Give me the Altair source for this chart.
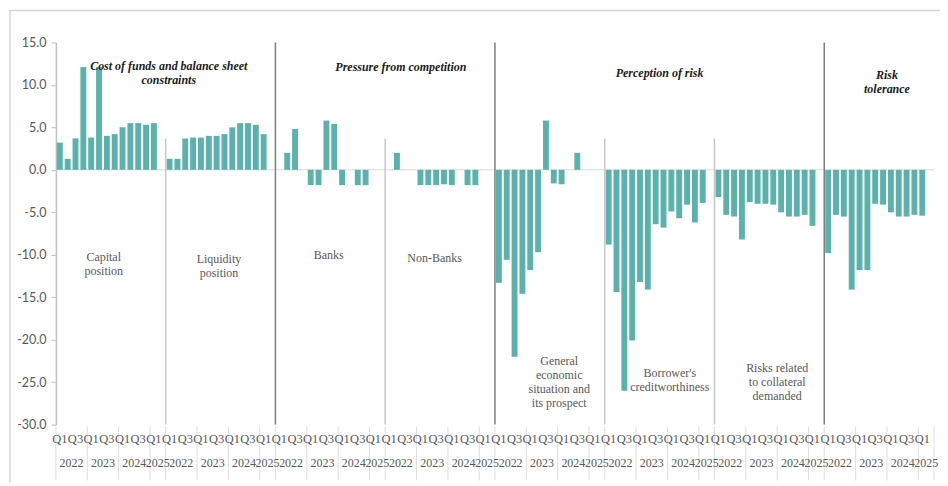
import altair as alt
import pandas as pd

# ---------------- data ----------------
panels = ["Capital position", "Liquidity position", "Banks", "Non-Banks",
          "General economic situation and its prospect",
          "Borrower's creditworthiness", "Risks related to collateral demanded",
          "Risk tolerance"]
quarters = ["Q1", "Q2", "Q3", "Q4", "Q1", "Q2", "Q3", "Q4",
            "Q1", "Q2", "Q3", "Q4", "Q1", "Q2"]
years = ["2022", "2023", "2024", "2025"]
year_len = [4, 4, 4, 2]

capital = [3.2, 1.3, 3.7, 12.1, 3.8, 12.1, 4.0, 4.2, 5.0, 5.5, 5.5, 5.3, 5.5]
liquidity = [1.3, 1.3, 3.7, 3.8, 3.8, 4.0, 4.0, 4.2, 5.0, 5.5, 5.5, 5.3, 4.2]
banks = [0, 2.0, 4.8, 0, -1.8, -1.8, 5.8, 5.4, -1.8, 0, -1.8, -1.8, 0]
nonbanks = [0, 2.0, 0, 0, -1.8, -1.8, -1.8, -1.7, -1.8, 0, -1.8, -1.8, 0]
general = [-13.3, -10.6, -22.0, -14.6, -11.8, -9.7, 5.8, -1.6, -1.7, 0, 2.0, 0, 0]
borrower = [-8.8, -14.4, -26.0, -20.1, -13.2, -14.1, -6.4, -6.8, -4.9, -5.7, -4.1, -6.2, -3.9]
collateral = [-3.2, -5.3, -5.5, -8.2, -3.8, -4.0, -4.0, -4.1, -5.0, -5.5, -5.5, -5.3, -6.6]
tolerance = [-9.8, -5.3, -5.5, -14.1, -11.8, -11.8, -4.0, -4.1, -5.0, -5.5, -5.5, -5.3, -5.4]

series = [capital, liquidity, banks, nonbanks, general, borrower, collateral, tolerance]

group_titles = ["Cost of funds and balance sheet\nconstraints",
                "Pressure from competition", "Perception of risk",
                "Risk\ntolerance"]
group_title_pos = [(14.4, 12.8), (44.0, 12.7), (77.0, 12.0), (106.0, 11.7)]
panel_label_text = ["Capital\nposition", "Liquidity\nposition", "Banks", "Non-Banks",
                    "General\neconomic\nsituation  and\nits prospect",
                    "Borrower's\ncreditworthiness",
                    "Risks related\nto collateral\ndemanded", ""]
panel_label_pos = [(6.1, -9.7), (20.8, -9.9), (34.8, -9.5), (48.3, -9.8),
                   (64.2, -21.9), (78.3, -23.3), (92.0, -22.7), (0, 0)]
major_sep = [2, 4, 7]      # panel index where a new group starts
minor_sep = [1, 3, 5, 6]

# ---------------- layout ----------------
SLOTS = 14
N = len(panels) * SLOTS
W, H = 880, 383
SERIF = "'Liberation Serif', 'Times New Roman', 'DejaVu Serif', serif"

xs = alt.Scale(domain=[0, N], nice=False, zero=False)
ys = alt.Scale(domain=[-30, 15], nice=False, zero=False)
yaxis = alt.Axis(values=list(range(-30, 16, 5)), title="",
                 labelExpr="(datum.value < 0 ? '-' : '') + format(abs(datum.value), '.1f')",
                 grid=False, domainColor="#bfbfbf", domainWidth=1.5,
                 tickColor="#bfbfbf", tickSize=5, labelPadding=5,
                 labelFont="Lato", labelFontSize=12.5, labelColor="#595959")

rows = []
for p, vals in enumerate(series):
    for q, v in enumerate(vals):
        s = p * SLOTS + q
        rows.append({"panel": panels[p], "quarter": quarters[q], "value": v,
                     "x0": s + 0.125, "x1": s + 0.875})
bars_df = pd.DataFrame(rows)

qrows, yrows, seps = [], [], []
for p in range(len(panels)):
    for q in range(0, 13, 2):
        qrows.append({"x": p * SLOTS + q + 0.5, "t": quarters[q]})
    start = 0
    for yname, ln in zip(years, year_len):
        yrows.append({"x": p * SLOTS + start + ln / 2, "t": yname})
        seps.append({"x": p * SLOTS + start})
        start += ln
seps.append({"x": N})
q_df, yr_df, sep_df = pd.DataFrame(qrows), pd.DataFrame(yrows), pd.DataFrame(seps)

major_df = pd.DataFrame({"x": [p * SLOTS for p in major_sep], "y0": 15, "y1": -30})
minor_df = pd.DataFrame({"x": [p * SLOTS for p in minor_sep], "y0": 3.7, "y1": -30})
zero_df = pd.DataFrame({"x0": [0], "x1": [N], "y": [0]})
gt_df = pd.DataFrame({"x": [a for a, b in group_title_pos],
                      "y": [b for a, b in group_title_pos], "t": group_titles})
pl_df = pd.DataFrame({"x": [a for a, b in panel_label_pos],
                      "y": [b for a, b in panel_label_pos], "t": panel_label_text})
pl_df = pl_df[pl_df["t"] != ""]

frame = alt.Chart(pd.DataFrame({"a": [0]})).mark_rect(
    fill="transparent", stroke="#d6d6d6", strokeWidth=1.5).encode(
    x=alt.value(-46), x2=alt.value(W + 60), y=alt.value(-32), y2=alt.value(H + 120))

zero = alt.Chart(zero_df).mark_rule(color="#d9d9d9", strokeWidth=1).encode(
    x=alt.X("x0:Q", scale=xs, axis=None), x2="x1:Q",
    y=alt.Y("y:Q", scale=ys, axis=yaxis))

bars = alt.Chart(bars_df).mark_rect(color="#5bb2ad").encode(
    x=alt.X("x0:Q", scale=xs, axis=None), x2="x1:Q",
    y=alt.Y("value:Q", scale=ys, axis=yaxis), y2=alt.datum(0))

major = alt.Chart(major_df).mark_rule(color="#7f7f7f", strokeWidth=1.5).encode(
    x=alt.X("x:Q", scale=xs, axis=None),
    y=alt.Y("y0:Q", scale=ys, axis=yaxis), y2="y1:Q")
minor = alt.Chart(minor_df).mark_rule(color="#c8c8c8", strokeWidth=1.5).encode(
    x=alt.X("x:Q", scale=xs, axis=None),
    y=alt.Y("y0:Q", scale=ys, axis=yaxis), y2="y1:Q")

sep = alt.Chart(sep_df).mark_rule(color="#dedede", strokeWidth=1).encode(
    x=alt.X("x:Q", scale=xs, axis=None), y=alt.value(H + 2), y2=alt.value(H + 56))

qlab = alt.Chart(q_df).mark_text(font=SERIF, fontSize=12.5, color="#595959",
                                 baseline="middle", align="center").encode(
    x=alt.X("x:Q", scale=xs, axis=None), y=alt.value(H + 14), text="t:N")
ylab = alt.Chart(yr_df).mark_text(font=SERIF, fontSize=12, color="#595959",
                                  baseline="middle", align="center").encode(
    x=alt.X("x:Q", scale=xs, axis=None), y=alt.value(H + 38), text="t:N")

gtitles = alt.Chart(gt_df).mark_text(font=SERIF, fontSize=12, fontWeight="bold",
                                     fontStyle="italic", color="#1a1a1a",
                                     baseline="top", align="center",
                                     lineBreak="\n", lineHeight=14).encode(
    x=alt.X("x:Q", scale=xs, axis=None),
    y=alt.Y("y:Q", scale=ys, axis=yaxis), text="t:N")
plabels = alt.Chart(pl_df).mark_text(font=SERIF, fontSize=12, color="#595959",
                                     baseline="top", align="center",
                                     lineBreak="\n", lineHeight=14).encode(
    x=alt.X("x:Q", scale=xs, axis=None),
    y=alt.Y("y:Q", scale=ys, axis=yaxis), text="t:N")

chart = alt.layer(frame, zero, bars, minor, major, sep, qlab, ylab, gtitles, plabels).properties(
    width=W, height=H,
    autosize=alt.AutoSizeParams(type="none"),
    padding={"left": 48, "top": 34, "right": 6, "bottom": 58},
    background="white",
).configure_view(stroke="transparent")

chart.save("out.html", embed_options={"renderer": "svg", "actions": False})
